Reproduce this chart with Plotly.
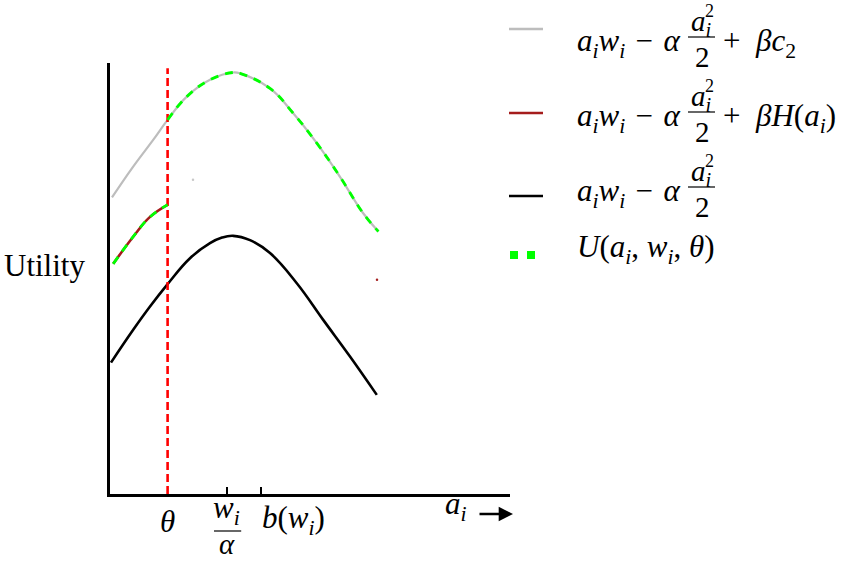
import plotly.graph_objects as go

# ---------------- data ----------------
theta = 1.44          # threshold position on a_i axis
w_over_alpha = 2.92   # w_i / alpha
b_w = 3.77            # b(w_i)

gray_x = [0.05, 0.575, 1.075, 1.44, 1.92, 2.5, 3.08, 3.25, 4.0, 4.575, 5.17, 5.75, 6.325, 6.71]
gray_y = [6.88, 7.59, 8.21, 8.68, 9.22, 9.61, 9.78, 9.76, 9.41, 8.84, 8.14, 7.36, 6.52, 6.09]

black_x = [0.025, 0.58, 1.0, 1.44, 2.0, 2.5, 2.8, 3.08, 3.5, 4.0, 4.67, 5.33, 6.0, 6.67]
black_y = [3.05, 3.81, 4.35, 4.87, 5.47, 5.82, 5.95, 5.99, 5.89, 5.59, 4.89, 4.04, 3.19, 2.30]

red_x = [0.08, 0.58, 1.0, 1.44]
red_y = [5.34, 5.97, 6.43, 6.71]

vline_y = [0.0, 9.88]

stray_x = [2.075, 6.675]
stray_y = [7.29, 4.97]
stray_c = ["#c8c8c8", "#a52020"]

# U = red part for a < theta, gray part for a >= theta
u_x = red_x + [None] + [x for x in gray_x if x >= theta]
u_y = red_y + [None] + [y for x, y in zip(gray_x, gray_y) if x >= theta]

# ---------------- layout geometry ----------------
W, H = 847, 561
L, R, T, B = 110, 337, 63, 67
PW, PH = W - L - R, H - T - B
FONT = "Liberation Serif"
FS = 31
GRAY, DRED, GREEN = "#bdbdbd", "#a51c1c", "#00ff00"
EN = "\u2002"
SP = "\u2004"


def px(x):
    return (x - L) / PW


def py(y):
    return (H - B - y) / PH


SM = 1.2
fig = go.Figure()
fig.add_trace(go.Scatter(x=gray_x, y=gray_y, mode="lines",
                         line=dict(color=GRAY, width=2.2, shape="spline", smoothing=SM),
                         showlegend=False, hoverinfo="skip"))
fig.add_trace(go.Scatter(x=black_x, y=black_y, mode="lines",
                         line=dict(color="black", width=2.6, shape="spline", smoothing=SM),
                         showlegend=False, hoverinfo="skip"))
fig.add_trace(go.Scatter(x=red_x, y=red_y, mode="lines",
                         line=dict(color=DRED, width=2.6, shape="spline", smoothing=SM),
                         showlegend=False, hoverinfo="skip"))
fig.add_trace(go.Scatter(x=[theta, theta], y=vline_y, mode="lines",
                         line=dict(color="#ff0000", width=2.6, dash="8px,4px"),
                         showlegend=False, hoverinfo="skip"))
fig.add_trace(go.Scatter(x=u_x, y=u_y, mode="lines", connectgaps=False,
                         line=dict(color=GREEN, width=2.8, dash="8px,7px", shape="spline", smoothing=SM),
                         showlegend=False, hoverinfo="skip"))
fig.add_trace(go.Scatter(x=stray_x, y=stray_y, mode="markers", marker=dict(color=stray_c, size=2.5),
                         showlegend=False, hoverinfo="skip"))

ann = []
shapes = []


def txt(text, x, y, size=FS, xanchor="left", xref="paper", yshift=0, yanchor="middle"):
    ann.append(dict(text=text, x=x, y=y, xref=xref, yref="paper", xanchor=xanchor, yanchor=yanchor,
                    showarrow=False, yshift=yshift, borderpad=0,
                    font=dict(family=FONT, size=size, color="black")))


# tick labels
txt("<i>θ</i>", theta, 0, xanchor="center", xref="x", yshift=-27)
txt("<i>w</i><sub><i>i</i></sub>", w_over_alpha, 0, xanchor="center", xref="x", yshift=-16)
txt("<i>α</i>", w_over_alpha, py(561), size=29, xanchor="center", xref="x", yanchor="bottom")
shapes.append(dict(type="line", xref="x", yref="paper", x0=w_over_alpha - 0.32, x1=w_over_alpha + 0.36,
                   y0=py(531), y1=py(531), line=dict(color="black", width=1.2)))
txt("<i>b</i>(<i>w</i><sub><i>i</i></sub>)", b_w, 0, xanchor="left", xref="x", yshift=-26)

# axis titles
txt("Utility", px(3), py(265))
txt("<i>a</i><sub><i>i</i></sub>", px(444), py(506))
ann.append(dict(text="", x=px(513), y=py(514), xref="paper", yref="paper", ax=-35, ay=0,
                showarrow=True, arrowhead=2, arrowsize=1.1, arrowwidth=2.6, arrowcolor="black"))

# legend (drawn manually so that fractions can be stacked)
main = "<i>a</i><sub><i>i</i></sub><i>w</i><sub><i>i</i></sub>" + SP + "−" + SP + "<i>α</i>"
rows = [
    (29, GRAY, 43, "+" + EN + "<i>βc</i><sub>2</sub>"),
    (113, DRED, 118, "+" + EN + "<i>βH</i>(<i>a</i><sub><i>i</i></sub>)"),
    (196, "black", 193, ""),
]
for sy, col, m, tail in rows:
    shapes.append(dict(type="line", xref="paper", yref="paper", x0=px(509), x1=px(543), y0=py(sy), y1=py(sy),
                       line=dict(color=col, width=2.4)))
    txt(main, px(576), py(m))
    txt("<i>a</i><sub><i>i</i></sub>", px(701), py(m - 20), size=29, xanchor="center")
    txt("2", px(709), py(m - 43), size=18, xanchor="center", yanchor="top")
    shapes.append(dict(type="line", xref="paper", yref="paper", x0=px(688), x1=px(715), y0=py(m - 6),
                       y1=py(m - 6), line=dict(color="black", width=1.2)))
    txt("2", px(702), py(m + 14), size=29, xanchor="center")
    if tail:
        txt(tail, px(722), py(m))

shapes.append(dict(type="line", xref="paper", yref="paper", x0=px(510), x1=px(536), y0=py(255), y1=py(255),
                   line=dict(color=GREEN, width=8, dash="8px,9px")))
txt("<i>U</i>(<i>a</i><sub><i>i</i></sub>, <i>w</i><sub><i>i</i></sub>, <i>θ</i>)", px(576), py(249))

fig.update_layout(
    width=W, height=H, margin=dict(l=L, r=R, t=T, b=B, pad=0),
    paper_bgcolor="white", plot_bgcolor="white",
    xaxis=dict(range=[0, 10], showgrid=False, zeroline=False, showline=True, linecolor="black", linewidth=2.6,
               tickvals=[w_over_alpha, b_w], ticks="inside", ticklen=7, tickwidth=2, tickcolor="black",
               showticklabels=False, fixedrange=True),
    yaxis=dict(range=[0, 10], showgrid=False, zeroline=False, showline=True, linecolor="black", linewidth=2.6,
               showticklabels=False, ticks="", fixedrange=True),
    annotations=ann, shapes=shapes, showlegend=False,
)

fig.write_html("out.html")
